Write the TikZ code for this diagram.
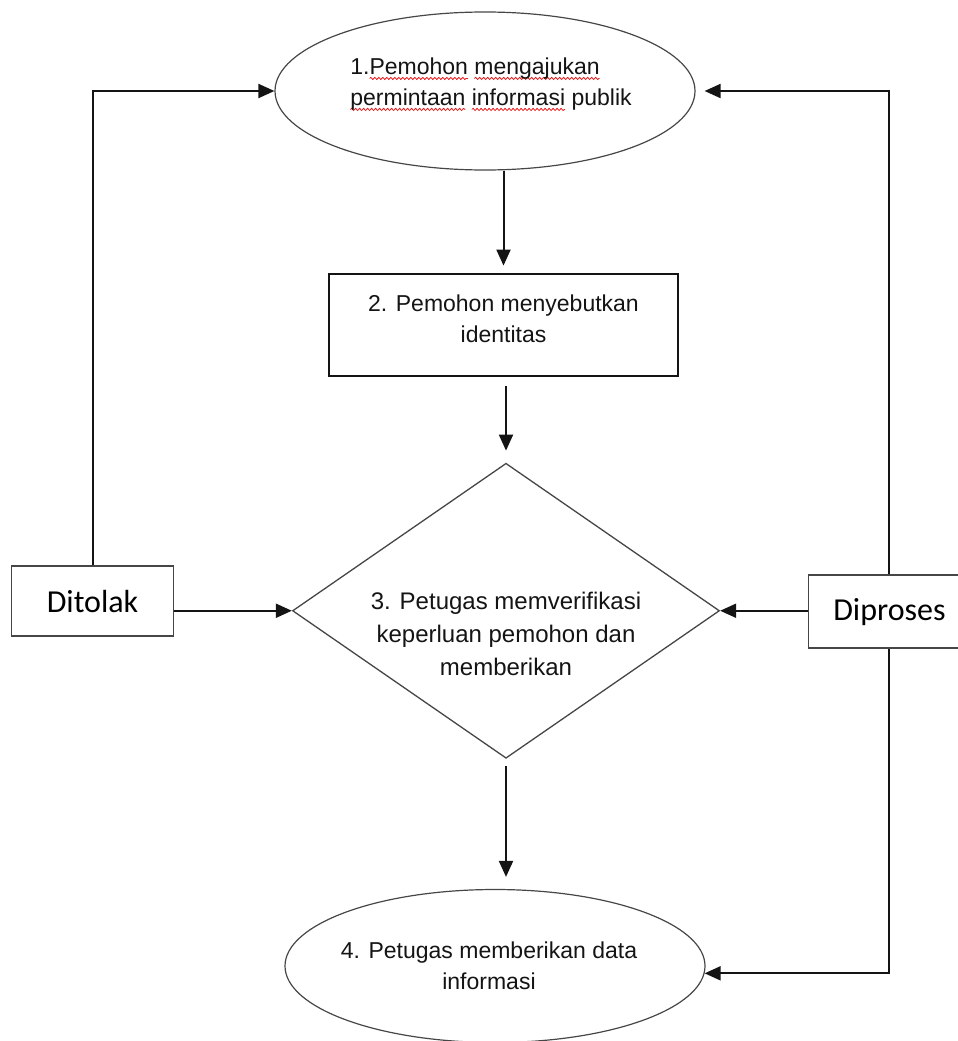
\documentclass[tikz,border=0pt]{standalone}
\usepackage{fontspec}
\setmainfont{Liberation Sans}
\newfontfamily\calibri{Carlito}
\usepackage{xcolor}
\usepackage{tikz}
\usetikzlibrary{shapes.geometric, arrows.meta, positioning, calc, decorations.pathmorphing}
\definecolor{mydark}{RGB}{20,20,20}
\definecolor{mygray}{RGB}{70,70,70}
\definecolor{spellred}{RGB}{230,25,25}
\newsavebox\spellbox
\newcommand\spellerr[1]{\sbox\spellbox{#1}\rlap{\tikz[overlay, baseline=0pt]\draw[spellred, line width=0.8pt, decorate,
  decoration={snake, amplitude=1.1pt, segment length=4pt}] (0pt,-4pt) -- (\wd\spellbox,-4pt);}\usebox\spellbox}
\tikzset{
  oval/.style={ellipse, draw=mygray, line width=1.2pt, inner sep=0pt},
  stepbox/.style={rectangle, draw=mydark, line width=2pt, inner sep=0pt},
  decision/.style={diamond, draw=mygray, line width=1.3pt, inner sep=0pt},
  sidebox/.style={rectangle, draw=mygray, line width=1.6pt, inner sep=0pt,
    minimum width=162pt, font=\calibri\fontsize{32}{38}\selectfont},
  txt/.style={inner sep=0pt, text=mydark, font=\fontsize{23}{31}\selectfont},
  arrow/.style={-{Triangle[length=16pt,width=14pt]}, line width=2pt, color=mydark}
}
\begin{document}
\begin{tikzpicture}[x=1pt, y=-1pt]
  \useasboundingbox (0,0) rectangle (958,1041);
  \clip (0,0) rectangle (958,1041);

  % Main column
  \node[oval, minimum width=420pt, minimum height=158pt] (req) at (485,91) {};
  \node[stepbox, below=102pt of req, xshift=18.5pt, minimum width=349pt, minimum height=102pt] (ident) {};
  \node[decision, below=86pt of ident, xshift=2.5pt, minimum width=427pt, minimum height=295pt] (verif) {};
  \node[oval, below=130pt of verif, xshift=-11pt, minimum width=420pt, minimum height=153pt] (give) {};

  % Side boxes
  \node[sidebox, left=117.5pt of verif, yshift=9.5pt, minimum height=70pt] (tolak) {Ditolak};
  \node[sidebox, right=87.5pt of verif, yshift=-1pt, minimum height=73pt] (proses) {Diproses};

  % Texts
  \node[txt, align=left] (req-txt) at ([xshift=6pt, yshift=7pt]req.center)
    {1.\spellerr{Pemohon} \spellerr{mengajukan}\\\spellerr{permintaan} \spellerr{informasi} publik};
  \node[txt, align=center] (ident-txt) at ([yshift=6pt]ident.center) {2. Pemohon menyebutkan\\identitas};
  \node[txt, align=center, font=\fontsize{24}{33}\selectfont] (verif-txt) at ([yshift=-23pt]verif.center)
    {3. Petugas memverifikasi\\keperluan pemohon dan\\memberikan};
  \node[txt, align=center] (give-txt) at ([xshift=-6pt]give.center) {4. Petugas memberikan data\\informasi};

  \draw[arrow, shorten >=7pt] (req.south -| ident.north) -- (ident.north);
  \draw[arrow, shorten <=9pt, shorten >=12pt] (ident.south -| verif.north) -- (verif.north);
  \draw[arrow, shorten <=7pt, shorten >=12pt] (verif.south) -- (verif.south |- give.north);

  \draw[arrow] (tolak.north) |- (req.west);
  \draw[arrow] (tolak.east |- verif.west) -- (verif.west);

  \draw[arrow] (proses.west |- verif.east) -- (verif.east);
  \draw[arrow, shorten >=9pt] (proses.north) |- (req.east);
  \draw[arrow] (proses.south) |- (give.-2);
\end{tikzpicture}
\end{document}
